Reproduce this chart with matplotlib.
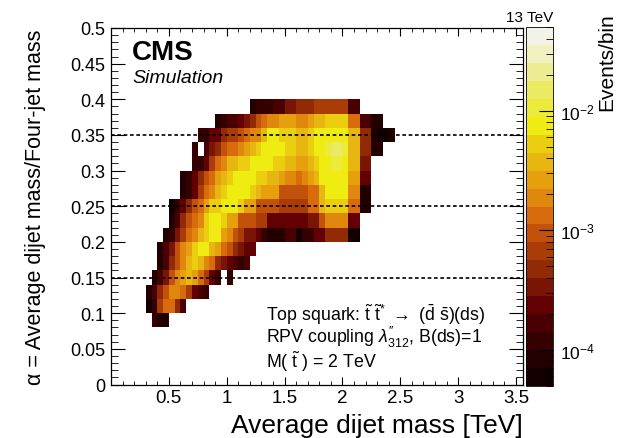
import numpy as np
import matplotlib
matplotlib.use("Agg")
import matplotlib.pyplot as plt
from matplotlib.colors import ListedColormap, LogNorm
from matplotlib.ticker import MultipleLocator, LogLocator, NullFormatter

plt.rcParams['font.family'] = ['Liberation Sans', 'DejaVu Sans']
plt.rcParams['mathtext.fontset'] = 'custom'
plt.rcParams['mathtext.rm'] = 'Liberation Sans'
plt.rcParams['mathtext.it'] = 'Liberation Sans:italic'
plt.rcParams['mathtext.bf'] = 'Liberation Sans:bold'

# histogram binning
x_edges = np.round(np.arange(0.30, 2.4501, 0.05), 2)
y_edges = np.round(np.arange(0.08, 0.4001, 0.02), 2)

# colour band of every filled bin
# (1 = darkest band ... 20 = palest band, ' ' = empty bin)
# rows from alpha 0.38-0.40 down to 0.08-0.10, each starting at row_start [TeV]
row_start = [1.20, 0.90, 0.75, 0.70, 0.70, 0.60, 0.60, 0.50,
             0.50, 0.45, 0.40, 0.40, 0.35, 0.30, 0.30, 0.35]
row_bands = [
    "2333446677788888844",
    "23445679ABBCCCBBCDDEEEEAA4422",
    "33557889ABBDFFEEEDDEFFFFFFDD772112",
    "3 4679AABCDEFFFFEEDDEFFGHHGDD7722",
    "3358ABDDEEFFFFEEDDCCDEFFGGFDD66",
    "23579ACDEFFFFEEDDCBBABCDFFFFFCC55",
    "2358ABDEFFFFEDCCC99999AADFFFFBB22",
    "13579ACEEFFFECC999988888AADEEEEAA22",
    "2479ABEFFECC999885555555669BBBB55",
    "2368ABDEFFCB9866532224413355777711",
    "2469BCEFFDCA97655",
    "2479BDEDBA765434",
    "2469BCDCA853 3",
    "2479BBA8543",
    "138AA74",
    "322",
]

# palette of the z axis: 20 bands from 5e-5 to 5e-2 events/bin
palette = ["#120000", "#220000", "#340000", "#4a0002", "#620002",
           "#7a1404", "#922a06", "#aa3c08", "#c2520a", "#d86c0c",
           "#e0880e", "#e6a00e", "#e8b610", "#ecce10", "#eeec10",
           "#ecea3a", "#ecea62", "#eeec92", "#f0f0c0", "#f2f2e6"]
z_min, z_max = 5e-5, 5e-2
codes = "123456789ABCDEFGHIJK"

nx, ny = len(x_edges) - 1, len(y_edges) - 1
z = np.full((ny, nx), np.nan)
step = np.log10(z_max / z_min) / len(palette)
for r, (x0, s) in enumerate(zip(row_start, row_bands)):
    i0 = int(round((x0 - 0.30) / 0.05))
    for j, c in enumerate(s):
        if c == ' ':
            continue
        lvl = codes.index(c) + 1
        z[ny - 1 - r, i0 + j] = z_min * 10 ** ((lvl - 0.5) * step)
z = np.ma.masked_invalid(z)

W, H = 623, 439
fig = plt.figure(figsize=(W / 100, H / 100), dpi=100)
ax = fig.add_axes([111 / W, 1 - 385.5 / H, 412 / W, 356.5 / H])

cmap = ListedColormap(palette)
mesh = ax.pcolormesh(x_edges, y_edges, z, cmap=cmap,
                     norm=LogNorm(vmin=z_min, vmax=z_max))

for a in [0.15, 0.25, 0.35]:
    ax.axhline(a, color='black', lw=1.2, ls=(0, (2.2, 1.6)))

ax.set_xlim(0, 3.56)
ax.set_ylim(0, 0.5)
ax.xaxis.set_minor_locator(MultipleLocator(0.1))
ax.yaxis.set_minor_locator(MultipleLocator(0.01))
ax.set_xticks(np.arange(0.5, 3.51, 0.5))
ax.set_xticklabels(["0.5", "1", "1.5", "2", "2.5", "3", "3.5"])
ax.set_yticks(np.arange(0, 0.501, 0.05))
ax.set_yticklabels(["0", "0.05", "0.1", "0.15", "0.2", "0.25", "0.3",
                    "0.35", "0.4", "0.45", "0.5"])
ax.tick_params(axis='x', which='both', direction='in', top=True,
               labelsize=13.5, pad=3)
ax.tick_params(axis='x', which='major', length=6)
ax.tick_params(axis='x', which='minor', length=3)
ax.tick_params(axis='y', which='both', direction='in', right=True,
               labelsize=13, pad=4)
ax.tick_params(axis='y', which='major', length=10)
ax.tick_params(axis='y', which='minor', length=5)
for sp in ax.spines.values():
    sp.set_linewidth(0.9)

# colour bar
cax = fig.add_axes([526 / W, 1 - 386.7 / H, 27 / W, 358.4 / H])
cb = fig.colorbar(mesh, cax=cax)
cb.outline.set_linewidth(0.6)
cax.yaxis.set_major_locator(LogLocator(base=10))
cax.yaxis.set_minor_locator(LogLocator(base=10, subs=np.arange(2, 10)))
cax.yaxis.set_minor_formatter(NullFormatter())
cax.tick_params(which='both', direction='in', labelsize=12.5, pad=5)
cax.tick_params(which='major', length=10)
cax.tick_params(which='minor', length=5)

# texts
fig.text(523 / W, 1 - 433 / H, "Average dijet mass [TeV]", ha='right',
         va='baseline', fontsize=19)
fig.text(36 / W, 1 - 30 / H, "α = Average dijet mass/Four-jet mass",
         rotation=90, ha='center', va='top', fontsize=15.5)
fig.text(607 / W, 1 - 13 / H, "Events/bin", rotation=90, ha='center',
         va='top', fontsize=15)
fig.text(553 / W, 1 - 22 / H, "13 TeV", ha='right', va='baseline',
         fontsize=11)
fig.text(132 / W, 1 - 60 / H, "CMS", ha='left', va='baseline',
         fontsize=20, fontweight='bold')
fig.text(132 / W, 1 - 83 / H, "Simulation", ha='left', va='baseline',
         fontsize=14, style='italic')

fig.text(266 / W, 1 - 321.5 / H,
         r"Top squark: $\tilde{\mathrm{t}}\ \tilde{\mathrm{t}}^{*}\ "
         r"\rightarrow\ (\bar{\mathrm{d}}\ \bar{\mathrm{s}})$(ds)",
         ha='left', va='baseline', fontsize=12.8)
fig.text(266 / W, 1 - 343.5 / H,
         r"RPV coupling $\lambda^{\prime\prime}_{312}$, B(ds)=1",
         ha='left', va='baseline', fontsize=12.8)
fig.text(266 / W, 1 - 368 / H, r"M( $\tilde{\mathrm{t}}$ ) = 2 TeV",
         ha='left', va='baseline', fontsize=12.8)

fig.savefig("out.png", dpi=100)
